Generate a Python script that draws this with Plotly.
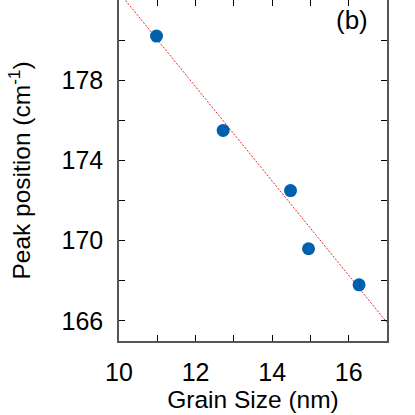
import plotly.graph_objects as go

grain_size = [10.98, 12.72, 14.48, 14.95, 16.27]
peak_pos = [180.2, 175.5, 172.5, 169.6, 167.8]

fit_x = [10.0, 17.0]
fit_y = [182.38, 165.92]

x_ticks = [10, 11, 12, 13, 14, 15, 16, 17]
x_labels = ["10", "", "12", "", "14", "", "16", ""]
y_ticks = [166, 168, 170, 172, 174, 176, 178, 180, 182]
y_labels = ["166", "", "170", "", "174", "", "178", "", "182"]

FONT = "Liberation Sans, Arial, sans-serif"
AX = "#555555"

fig = go.Figure()
fig.add_trace(go.Scatter(x=fit_x, y=fit_y, mode="lines",
                         line=dict(color="#e8262b", width=1, dash="2px,1.5px"),
                         showlegend=False, hoverinfo="skip"))
fig.add_trace(go.Scatter(x=grain_size, y=peak_pos, mode="markers",
                         marker=dict(color="#0060ad", size=13, line=dict(width=0)),
                         showlegend=False))

fig.update_layout(
    width=415, height=415,
    margin=dict(l=119, r=28, t=0, b=74, autoexpand=False),
    paper_bgcolor="white", plot_bgcolor="white",
    font=dict(family=FONT, size=25, color="black"),
    xaxis=dict(range=[10, 17], tickvals=x_ticks, ticktext=x_labels,
               ticks="inside", ticklen=6, tickwidth=1.2, tickcolor="black",
               showline=True, linecolor=AX, linewidth=1.5, mirror="ticks",
               showgrid=False, zeroline=False, automargin=False,
               tickfont=dict(size=25), ticklabelstandoff=8,
               title=dict(text="Grain Size (nm)", standoff=4, font=dict(size=24.5))),
    yaxis=dict(range=[165, 182], tickvals=y_ticks, ticktext=y_labels,
               ticks="inside", ticklen=6, tickwidth=1.2, tickcolor="black",
               showline=True, linecolor=AX, linewidth=1.5, mirror="ticks",
               showgrid=False, zeroline=False, automargin=False,
               tickfont=dict(size=25), ticklabelstandoff=9,
               title=dict(text="Peak position (cm<sup>-1</sup>)", standoff=24, font=dict(size=24.5))),
    annotations=[dict(text="(b)", x=(370 - 119) / (415 - 119 - 28), y=181.0,
                      xref="paper", yref="y",
                      xanchor="right", yanchor="middle", showarrow=False,
                      font=dict(family=FONT, size=26, color="black"))],
)

fig.write_html("out.html", config={"displayModeBar": False},
               post_script="document.body.style.margin='0';document.body.style.padding='0';")
